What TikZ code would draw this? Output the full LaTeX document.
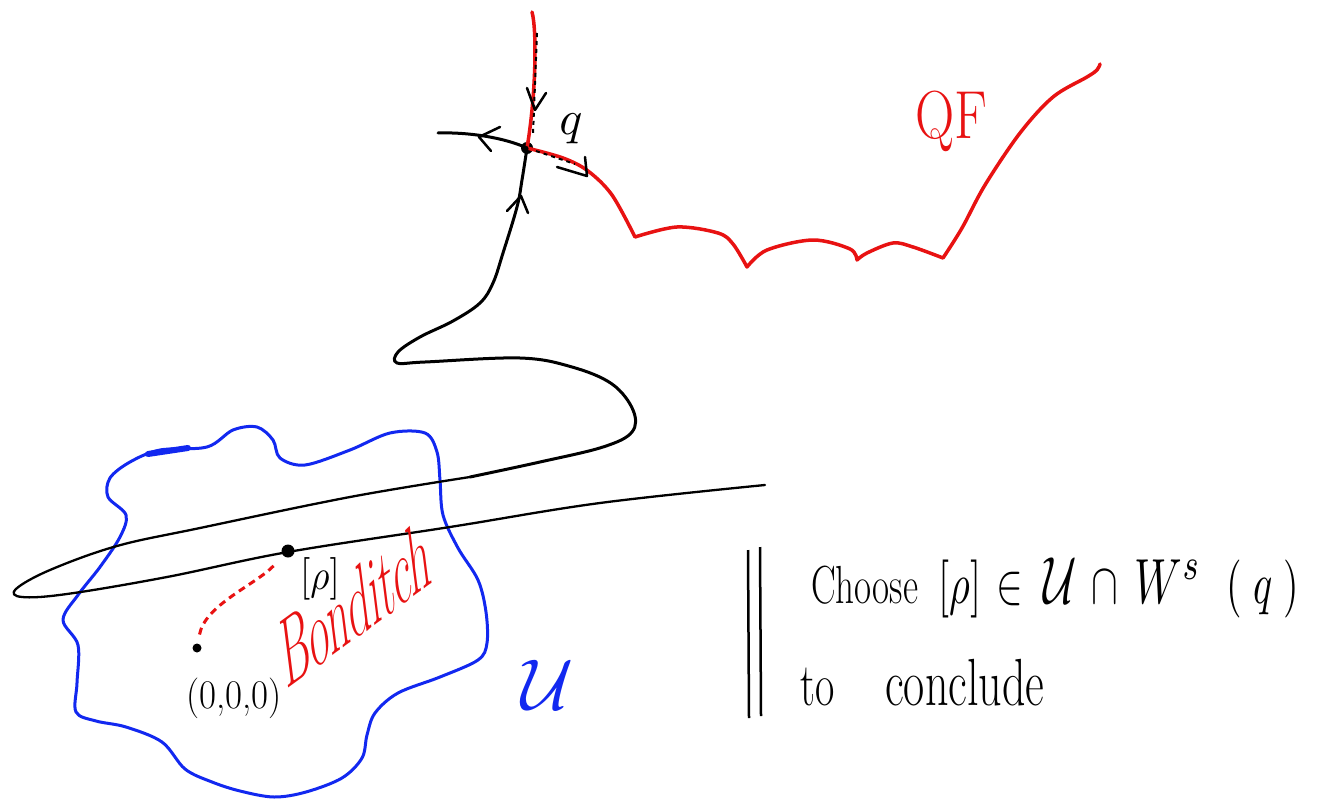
\documentclass[tikz,border=0pt]{standalone}
\usepackage{fontspec}
\usepackage{graphicx}
\definecolor{penred}{RGB}{232,18,18}
\definecolor{penblue}{RGB}{18,40,240}
\newcommand\myfs[1]{\fontsize{#1}{#1}\selectfont}
\newcommand\mth[2]{\scalebox{#1}{$#2$}}
\begin{document}
\begin{tikzpicture}[x=1pt,y=-1pt,
  blk/.style={line width=3pt, line cap=round, line join=round, black},
  thinblk/.style={line width=2.3pt, line cap=round, line join=round, black},
  rd/.style={line width=3.5pt, line cap=round, line join=round, penred},
  bl/.style={line width=3pt, line cap=round, line join=round, penblue},
  ovl/.style={line width=2pt, black, dash pattern=on 4pt off 4pt},
  chev/.style={line width=2.5pt, line cap=round, line join=round, black},
  blackdot/.style={circle, fill=black, inner sep=0pt, minimum size=#1},
  lbl/.style={inner sep=0pt},
  rtxt/.style={inner sep=0pt, anchor=base, yscale=1.45}
]
\useasboundingbox (0,0) rectangle (1324,810);
\fill[white] (0,0) rectangle (1324,810);

% points
\node[blackdot=12pt] (q) at (527,148) {};
\node[blackdot=13pt] (p) at (288,551) {};
\node[blackdot=9pt] (o) at (197,648) {};
\coordinate (top) at (532,12);
\coordinate (leftend) at (438,133);

% blue region U
\draw[bl] plot[smooth cycle, tension=0.55] coordinates {
 (160,450) (207,447) (233,430) (257,427) (273,440) (280,458) (305,465) (350,450)
 (390,433) (425,433) (437,452) (440,480) (443,515) (458,548) (478,580) (486,612)
 (487,643) (478,660) (440,677) (398,693) (375,713) (367,735) (362,758) (342,778)
 (306,792) (274,797) (240,791) (212,782) (185,769) (162,742) (126,727) (96,721)
 (76,712) (77,683) (78,645) (63,620) (78,595) (100,567) (120,537) (126,515)
 (108,497) (110,478) (130,462)};
\draw[penblue, line width=6pt, line cap=round] (148,454) -- (188,448);

% red stable branch (vertical) and QF
\draw[rd] (top) .. controls (537,30) and (536,95) .. (q.center);
\draw[ovl] (537,33) -- (533,135);
\draw[rd] plot[smooth, tension=0.55] coordinates {(527,148) (563,158) (588,171) (612,195) (635,237)}
  -- plot[smooth, tension=0.55] coordinates {(635,237) (677,227) (718,233) (733,244) (747,267)}
  -- plot[smooth, tension=0.55] coordinates {(747,267) (767,250) (813,240) (850,249) (857,260)}
  -- plot[smooth, tension=0.55] coordinates {(857,260) (867,253) (893,243) (913,247) (943,258)}
  -- plot[smooth, tension=0.55] coordinates {(943,258) (962,228) (985,185) (1020,133) (1053,97) (1087,77) (1097,70) (1100,64)};
\draw[ovl] (536,151) -- (575,164);

% black manifold
\draw[blk] (q.center) .. controls (505,138) and (470,132) .. (leftend);
\draw[blk] plot[smooth, tension=0.6] coordinates {(527,148) (522,180) (517,207) (503,253) (493,283)
 (480,303) (453,321) (420,337) (398,352) (397,363) (425,362) (520,358) (572,367) (612,384)
 (633,410) (632,432) (603,447) (540,462) (470,477)};
\draw[thinblk] plot[smooth, tension=0.6] coordinates {(470,477) (350,497) (200,528) (117,546)
 (50,570) (16,589) (22,597) (67,594) (167,577) (288,552) (450,527) (600,503) (765,485)};

% arrowheads
\draw[chev] (500,127) -- (479,137) -- (491,151);
\draw[chev] (527,88) -- (535,110) -- (546,93);
\draw[chev] (507,211) -- (521,196) -- (528,213);
\draw[chev] (557,167) -- (587,176) -- (585,157);

% dashed red to origin
\draw[penred, line width=3pt, dash pattern=on 7pt off 5pt, shorten <=14pt, shorten >=9pt]
  (p) .. controls (255,585) and (205,605) .. (o);

% labels
\node[lbl] (qlab) at (571,129) {\mth{4.8}{q}};
\node[lbl, yscale=1.15] (plab) at (320,579) {\mth{3.7}{[\rho]}};
\node[lbl, font=\myfs{37}, yscale=1.1] (olab) at (234,698) {(0,0,0)};
\node[lbl, text=penblue] (ulab) at (548,685) {\mth{7.2}{\mathcal{U}}};
\node[lbl, text=penred, font=\myfs{68}, xscale=0.8] (qf) at (951,121) {QF};
\node[lbl, text=penred, font=\myfs{50}, rotate=36, xslant=0.55, yscale=1.7] (bond) at (356,603) {Bonditch};

% right text
\draw[line width=2.5pt] (748,550) -- (749,718);
\draw[line width=2.5pt] (760,547) -- (761,716);
\node[rtxt, anchor=base west, font=\myfs{37}] (choose) at (811,603) {Choose};
\node[rtxt] (m1) at (960,603) {\mth{4.0}{[\rho]}};
\node[rtxt] (m2) at (1010,603) {\mth{4.0}{\in}};
\node[rtxt] (m3) at (1060,603) {\mth{4.6}{\mathcal{U}}};
\node[rtxt] (m4) at (1105,603) {\mth{4.0}{\cap}};
\node[rtxt] (m5) at (1168,603) {\mth{4.4}{W^{s}}};
\node[rtxt] (m6) at (1263,603) {\mth{4.0}{(\;q\;)}};
\node[rtxt, anchor=base west, font=\myfs{42}] (to) at (800,705) {to};
\node[rtxt, anchor=base west, font=\myfs{46}] (concl) at (885,705) {conclude};
\end{tikzpicture}
\end{document}
